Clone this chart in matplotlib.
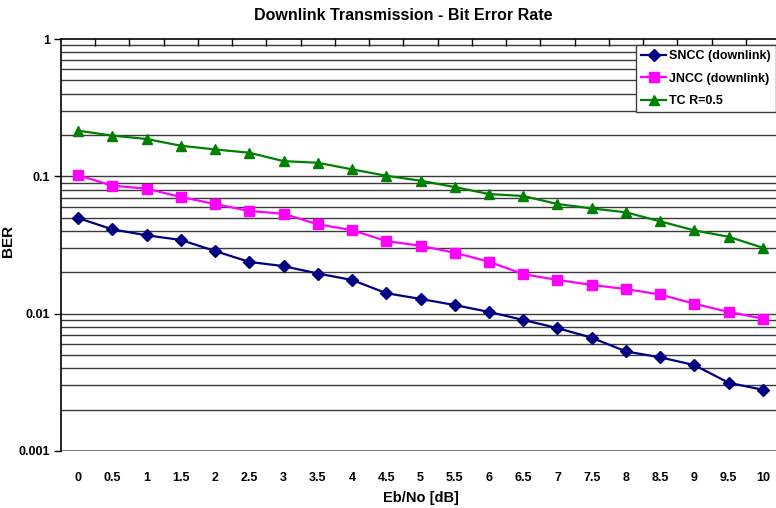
import matplotlib
matplotlib.use("Agg")
import matplotlib.pyplot as plt
from matplotlib.ticker import FixedLocator, NullFormatter

# data
ebno = ["0", "0.5", "1", "1.5", "2", "2.5", "3", "3.5", "4", "4.5", "5",
        "5.5", "6", "6.5", "7", "7.5", "8", "8.5", "9", "9.5", "10"]
sncc = [0.0497, 0.0411, 0.0372, 0.0344, 0.0286, 0.0238, 0.0222, 0.0196, 0.0176, 0.0141, 0.0128,
        0.01155, 0.0103, 0.0090, 0.00785, 0.00668, 0.00531, 0.00481, 0.00422, 0.00314, 0.00279]
jncc = [0.102, 0.0855, 0.0813, 0.0707, 0.0629, 0.0559, 0.0534, 0.0447, 0.0406, 0.0338, 0.0312,
        0.0278, 0.0239, 0.0194, 0.0176, 0.0162, 0.0151, 0.0138, 0.0118, 0.0103, 0.0092]
tc = [0.215, 0.198, 0.187, 0.167, 0.157, 0.1485, 0.129, 0.1256, 0.1124, 0.101, 0.0929,
      0.0836, 0.0743, 0.0719, 0.0629, 0.0584, 0.0547, 0.047, 0.0404, 0.0363, 0.0302]

plt.rcParams['font.family'] = ['Liberation Sans', 'DejaVu Sans']
plt.rcParams['font.weight'] = 'bold'

fig = plt.figure(figsize=(7.76, 5.08), dpi=100)
ax = fig.add_axes([61 / 776, 1 - 451 / 508, 719 / 776, 412 / 508])

x = list(range(len(ebno)))
ax.plot(x, sncc, color='#000080', marker='D', markersize=6, lw=1.6, label='SNCC (downlink)')
ax.plot(x, jncc, color='#FF00FF', marker='s', markersize=7, lw=1.6, label='JNCC (downlink)')
ax.plot(x, tc, color='#008000', marker='^', markersize=7.5, lw=1.6, label='TC R=0.5')

ax.set_yscale('log')
ax.set_ylim(0.001, 1)
ax.set_xlim(-0.5, len(ebno) - 0.5)

# gridlines at every log step
grid_vals = [m * 10.0 ** e for e in (-3, -2, -1) for m in range(1, 10)]
for g in grid_vals[1:]:
    ax.axhline(g, color='#3a3a3a', lw=1, zorder=0)
ax.axhline(0.001, color='#808080', lw=1.5, zorder=0)

ax.yaxis.set_major_locator(FixedLocator([0.001, 0.01, 0.1, 1]))
ax.set_yticklabels(['0.001', '0.01', '0.1', '1'])
ax.yaxis.set_minor_locator(FixedLocator([]))
ax.yaxis.set_minor_formatter(NullFormatter())
ax.tick_params(axis='y', which='major', length=5, width=1, labelsize=9, pad=3)

ax.set_xticks(x)
ax.set_xticklabels(ebno)
ax.set_xticks([i + 0.5 for i in x[:-1]], minor=True)
ax.tick_params(axis='x', which='major', length=0, labelsize=9, pad=15)
ax.tick_params(axis='x', which='minor', bottom=False, top=True, direction='in', length=5, width=1)

ax.spines['bottom'].set_visible(False)
ax.spines['right'].set_visible(False)
ax.spines['left'].set_linewidth(1.2)
ax.spines['top'].set_linewidth(1.2)

ax.set_xlabel('Eb/No [dB]', fontsize=10.5, fontweight='bold', labelpad=5)
ax.set_ylabel('BER', fontsize=11, fontweight='bold')
ax.yaxis.set_label_coords((15 - 61) / 719, (451 - 241) / 412)
fig.text(403 / 776, 1 - 16 / 508, 'Downlink Transmission - Bit Error Rate', ha='center', va='center',
         fontsize=11.5, fontweight='bold')

leg = ax.legend(loc='upper left', bbox_to_anchor=(636 / 776, 1 - 45 / 508), bbox_transform=fig.transFigure,
                fontsize=9, frameon=True, fancybox=False, borderpad=0.4, labelspacing=0.85,
                handlelength=2.0, handletextpad=0.25, borderaxespad=0)
leg.get_frame().set_edgecolor('#404040')
leg.get_frame().set_linewidth(1)
leg.get_frame().set_alpha(1)

fig.savefig('out.png', dpi=100)
